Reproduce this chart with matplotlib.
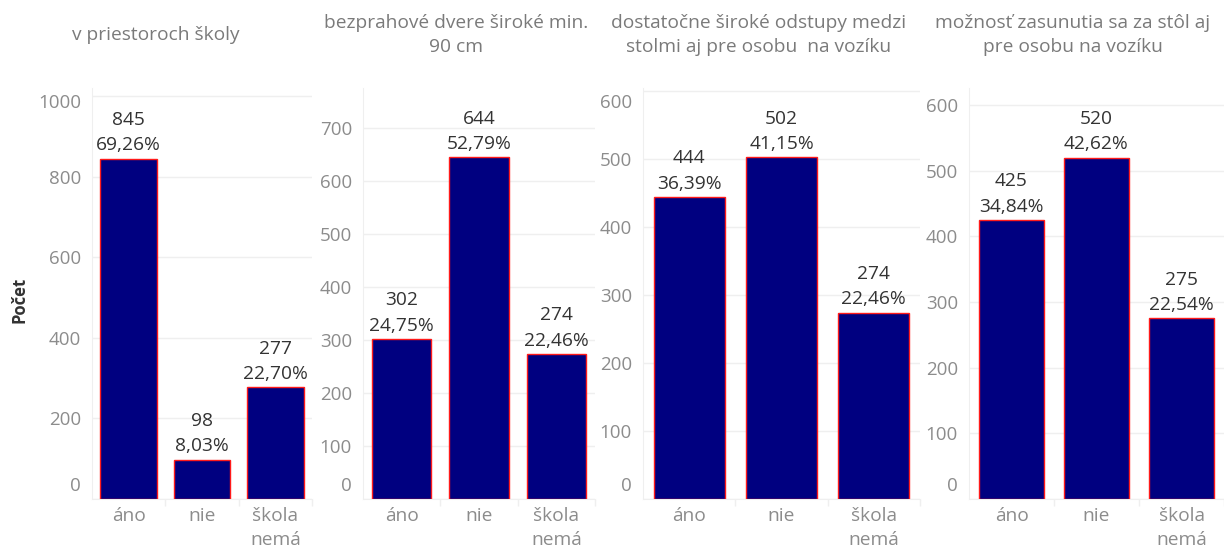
import matplotlib
matplotlib.use("Agg")
import matplotlib.pyplot as plt
from matplotlib.ticker import FixedLocator

plt.rcParams['font.family'] = ['Open Sans', 'DejaVu Sans']

# --- data ---
titles = [
    "v priestoroch školy",
    "bezprahové dvere široké min.\n90 cm",
    "dostatočne široké odstupy medzi\nstolmi aj pre osobu  na vozíku",
    "možnosť zasunutia sa za stôl aj\npre osobu na vozíku",
]
categories = ["áno", "nie", "škola\nnemá"]
counts_skola = [845, 98, 277]
counts_dvere = [302, 644, 274]
counts_odstupy = [444, 502, 274]
counts_stol = [425, 520, 275]
pct_skola = [69.26, 8.03, 22.70]
pct_dvere = [24.75, 52.79, 22.46]
pct_odstupy = [36.39, 41.15, 22.46]
pct_stol = [34.84, 42.62, 22.54]
y_label = "Počet"

# --- layout (pixels of 1224x551 canvas) ---
W, H = 1224, 551
panels = [
    # plot x0, x1, title centre, ymax, tick step
    (92, 312, 156, 1020, 200),
    (363, 595, 456, 775, 100),
    (643, 920, 759, 604, 100),
    (969, 1224, 1073, 626, 100),
]
top_px, bot_px = 88, 499

counts = [counts_skola, counts_dvere, counts_odstupy, counts_stol]
pcts = [pct_skola, pct_dvere, pct_odstupy, pct_stol]

fig = plt.figure(figsize=(W / 100, H / 100), dpi=100)

tick_col = "#8c8c8c"
grid_col = "#efefef"
fs = 13.8


def edge_label(ax, val, dy_px):
    # tableau keeps the first/last axis label inside the pane
    ax.annotate(str(val), (0, val), xycoords=("axes fraction", "data"),
                xytext=(-8, dy_px * 0.72), textcoords="offset points",
                ha="right", va="center", fontsize=fs - 0.3, color=tick_col)


for k, (x0, x1, tc, ymax, step) in enumerate(panels):
    ax = fig.add_axes([x0 / W, 1 - bot_px / H, (x1 - x0) / W, (bot_px - top_px) / H])
    xs = range(len(categories))
    ax.bar(xs, counts[k], width=0.77, color="#000080", edgecolor="#ff1a1a", linewidth=1.0, zorder=3)
    for i, (v, p) in enumerate(zip(counts[k], pcts[k])):
        ax.annotate(f"{v}\n{p:.2f}".replace(".", ",") + "%", (i, v),
                    xytext=(0, 3), textcoords="offset points",
                    ha="center", va="bottom", fontsize=fs, color="#333333",
                    linespacing=1.55, zorder=4)

    ax.set_xlim(-0.5, 2.5)
    ax.set_ylim(0, ymax)
    ticks = list(range(0, int(ymax) + 1, step))
    ax.set_yticks(ticks)

    ppu = (bot_px - top_px) / ymax
    grid_px = bot_px - ticks[-1] * ppu
    labels = [str(t) for t in ticks]
    labels[0] = ""
    edge_label(ax, 0, 13)
    if grid_px < top_px + 15:
        labels[-1] = ""
        edge_label(ax, ticks[-1], -(top_px + 15 - grid_px))
    ax.set_yticklabels(labels)

    ax.grid(axis="y", color=grid_col, linewidth=1.0, zorder=0)
    ax.set_axisbelow(True)

    ax.set_xticks(list(xs))
    ax.set_xticklabels(categories, linespacing=1.4)
    ax.xaxis.set_minor_locator(FixedLocator([0.5, 1.5, 2.5]))
    ax.tick_params(axis="x", which="major", length=0, pad=6, labelsize=fs, labelcolor=tick_col)
    ax.tick_params(axis="x", which="minor", length=5, width=1, color=grid_col)
    ax.tick_params(axis="y", length=0, pad=8, labelsize=fs - 0.3, labelcolor=tick_col)

    for s in ["top", "right"]:
        ax.spines[s].set_visible(False)
    ax.spines["left"].set_color(grid_col)
    ax.spines["bottom"].set_color(grid_col)

    fig.text(tc / W, 1 - 35 / H, titles[k], ha="center", va="center",
             fontsize=fs, color="#7a7a7a", linespacing=1.45)

fig.text(20 / W, 1 - 300 / H, y_label, rotation=90, ha="center", va="center",
         fontsize=12, fontweight="bold", color="#333333")

fig.savefig("out.png", dpi=100)
